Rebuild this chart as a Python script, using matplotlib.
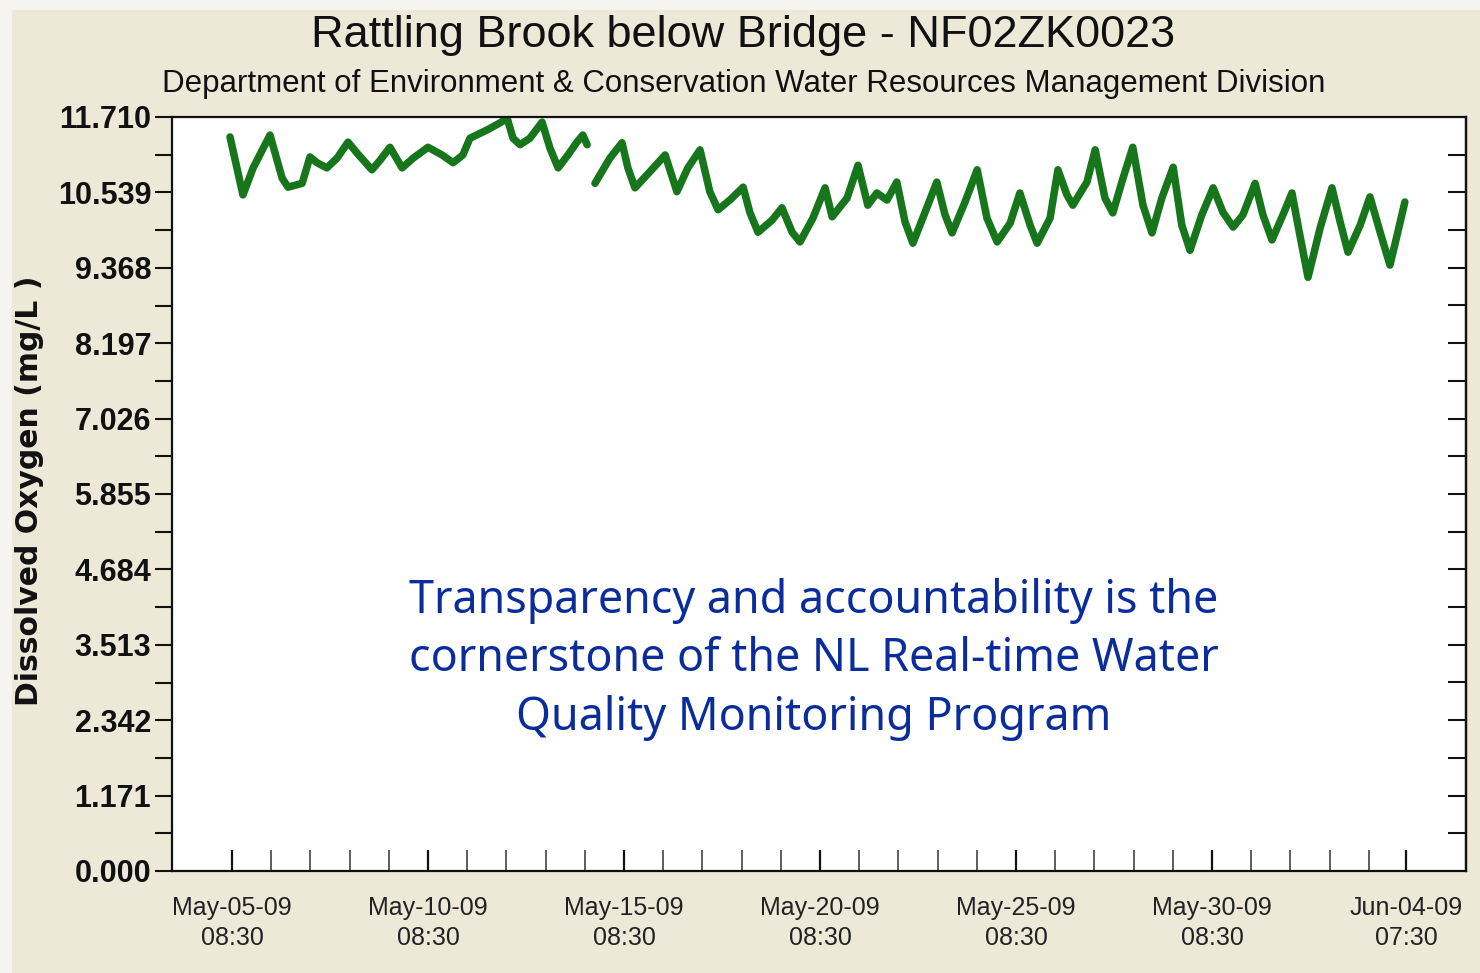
import numpy as np
import matplotlib
matplotlib.use("Agg")
import matplotlib.pyplot as plt
import matplotlib.dates as mdates
from matplotlib.ticker import FixedLocator

# days after May-05-09 08:30, dissolved oxygen in mg/L (NaN = gap in record)
days = [-0.05, 0.28, 0.54, 0.97, 1.28, 1.43, 1.79, 1.99, 2.17, 2.42, 2.68, 2.96,
        3.19, 3.57, 3.78, 4.03, 4.34, 4.62, 5.00, 5.36, 5.64, 5.89, 6.07, 6.51,
        6.84, 7.02, 7.17, 7.35, 7.60, 7.91, 8.11, 8.32, 8.57, 8.80, 8.95, 9.06,
        9.16,
        9.26, 9.64, 9.95, 10.10, 10.28, 10.66, 11.05, 11.35, 11.63, 11.94, 12.19,
        12.40, 12.70, 13.04, 13.21, 13.42, 13.78, 14.03, 14.29, 14.49, 14.82,
        15.13, 15.31, 15.69, 15.97, 16.22, 16.45, 16.71, 16.96, 17.17, 17.37,
        17.68, 17.98, 18.19, 18.37, 18.70, 19.01, 19.26, 19.52, 19.85, 20.10,
        20.36, 20.54, 20.87, 21.07, 21.30, 21.45, 21.81, 22.02, 22.27, 22.47,
        22.73, 22.98, 23.24, 23.47, 23.72, 24.01, 24.23, 24.44, 24.74, 25.03,
        25.28, 25.54, 25.79, 26.10, 26.30, 26.53, 26.81, 27.04, 27.24, 27.45,
        27.76, 28.06, 28.27, 28.47, 28.78, 29.03, 29.29, 29.54, 29.74, 29.92]
oxygen = [11.40, 10.50, 10.92, 11.43, 10.76, 10.62, 10.68, 11.09, 11.00, 10.92,
          11.07, 11.32, 11.15, 10.89, 11.04, 11.24, 10.92, 11.07, 11.24, 11.12,
          11.00, 11.12, 11.38, 11.51, 11.62, 11.69, 11.38, 11.28, 11.38, 11.63,
          11.23, 10.92, 11.12, 11.32, 11.43, 11.28,
          np.nan,
          10.68, 11.07, 11.31, 10.92, 10.61, 10.86, 11.12, 10.55, 10.92, 11.20,
          10.55, 10.27, 10.42, 10.62, 10.23, 9.92, 10.11, 10.30, 9.92, 9.77,
          10.14, 10.61, 10.16, 10.45, 10.96, 10.34, 10.53, 10.42, 10.70, 10.08,
          9.75, 10.23, 10.70, 10.19, 9.91, 10.39, 10.89, 10.14, 9.77, 10.06,
          10.53, 10.03, 9.75, 10.14, 10.89, 10.50, 10.34, 10.70, 11.20, 10.45,
          10.22, 10.76, 11.24, 10.34, 9.91, 10.45, 10.93, 10.03, 9.64, 10.19,
          10.61, 10.23, 10.00, 10.19, 10.68, 10.19, 9.80, 10.19, 10.53, 9.88,
          9.22, 9.99, 10.61, 10.08, 9.61, 10.03, 10.47, 9.92, 9.41, 9.92, 10.39]

y_ticks = [0.000, 1.171, 2.342, 3.513, 4.684, 5.855, 7.026, 8.197, 9.368, 10.539, 11.710]
x_label_times = ["2009-05-05T08:30", "2009-05-10T08:30", "2009-05-15T08:30",
                 "2009-05-20T08:30", "2009-05-25T08:30", "2009-05-30T08:30",
                 "2009-06-04T07:30"]

title = "Rattling Brook below Bridge - NF02ZK0023"
subtitle = "Department of Environment & Conservation Water Resources Management Division"
note = ("Transparency and accountability is the\n"
        "cornerstone of the NL Real-time Water\n"
        "Quality Monitoring Program")

t0 = np.datetime64("2009-05-05T08:30")
times = t0 + (np.array(days) * 86400).astype("timedelta64[s]")

fig = plt.figure(figsize=(14.8, 9.73), dpi=100, facecolor="#f6f4ee")
fig.patches.append(plt.Rectangle((12 / 1480, 0), 1, 1 - 10 / 973, transform=fig.transFigure,
                                 facecolor="#ece9d8", edgecolor="none", zorder=-10))
ax = fig.add_axes([172 / 1480, 1 - 871 / 973, (1466 - 172) / 1480, (871 - 117) / 973])
ax.set_facecolor("white")

ax.plot(times, oxygen, color="#17761c", lw=5.4, solid_capstyle="round", solid_joinstyle="round")

ax.set_ylim(0, 11.71)
ax.set_xlim(t0 - np.timedelta64(int(1.53 * 86400), "s"), t0 + np.timedelta64(int(31.48 * 86400), "s"))

for s in ax.spines.values():
    s.set_linewidth(1.6)
    s.set_color("#111111")

# y axis: labelled ticks outward on the left, half steps in between
ax.set_yticks(y_ticks)
ax.set_yticklabels([f"{v:.3f}" for v in y_ticks])
ax.yaxis.set_minor_locator(FixedLocator([(a + b) / 2 for a, b in zip(y_ticks[:-1], y_ticks[1:])]))
ax.tick_params(axis="y", which="both", direction="out", length=12, width=1.5, color="#111111",
               left=True, right=False, pad=3)
for lab in ax.get_yticklabels():
    lab.set_fontfamily("Liberation Sans")
    lab.set_fontweight("bold")
    lab.set_fontsize(22)
    lab.set_color("#111111")

# right side: inward ticks at every half step
right = ax.secondary_yaxis("right")
right.set_yticks(sorted(y_ticks + [(a + b) / 2 for a, b in zip(y_ticks[:-1], y_ticks[1:])])[1:-1])
right.tick_params(axis="y", direction="in", length=13, width=1.5, color="#111111", labelright=False)
right.spines["right"].set_linewidth(1.6)

# x axis: daily ticks pointing up, labels every five days
label_nums = mdates.date2num(np.array(x_label_times, dtype="datetime64[s]"))
day_nums = mdates.date2num(t0 + np.arange(1, 30).astype("timedelta64[D]"))
ax.xaxis.set_major_locator(FixedLocator(label_nums))
ax.xaxis.set_minor_locator(FixedLocator([d for d in day_nums if np.min(np.abs(label_nums - d)) > 0.5]))
ax.xaxis.set_major_formatter(mdates.DateFormatter("%b-%d-%y\n%H:%M"))
ax.tick_params(axis="x", which="major", direction="in", length=15, width=1.6, color="#111111",
               pad=18, top=False)
ax.tick_params(axis="x", which="minor", direction="in", length=15, width=1.1, color="#333333",
               top=False)
for lab in ax.get_xticklabels():
    lab.set_fontfamily("Liberation Sans")
    lab.set_fontsize(18)
    lab.set_color("#222222")
    lab.set_linespacing(1.3)

fig.text(743 / 1480, 1 - 36 / 973, title, ha="center", va="center",
         fontsize=32.5, family="Liberation Sans", color="#111111")
fig.text(744 / 1480, 1 - 84 / 973, subtitle, ha="center", va="center",
         fontsize=22.5, family="Liberation Sans", color="#111111")
fig.text(30 / 1480, 1 - 491 / 973, "Dissolved Oxygen (mg/L )", rotation=90, ha="center", va="center",
         fontsize=21.5, fontweight="bold", family="DejaVu Sans", color="#111111")

ax.text(0.496, 0.281, note, transform=ax.transAxes, ha="center", va="center",
        fontsize=32.3, family="Noto Sans", color="#0b2d9b", linespacing=1.36)

fig.savefig("out.png", dpi=100, facecolor=fig.get_facecolor())
